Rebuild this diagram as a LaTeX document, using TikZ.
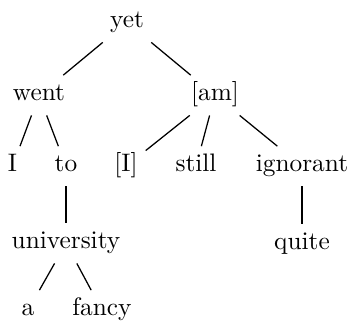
\documentclass[tikz,border=0pt]{standalone}
\begin{document}
\begin{tikzpicture}[x=0.395pt,y=-0.395pt,
  word/.style={anchor=base,inner sep=3pt,text height=7pt,text depth=2.5pt},
  link/.style={draw=black,line width=0.5pt}]
\useasboundingbox (0,0) rectangle (353,327);
% words, placed at their baselines
\node[word] (yet) at (127,28) {yet};
\node[word] (went) at (39,101) {went};
\node[word] (am) at (215,101) {[am]};
\node[word] (I) at (12.5,172) {I};
\node[word] (to) at (66,172) {to};
\node[word] (Ib) at (126,172) {[I]};
\node[word] (still) at (196,172) {still};
\node[word] (ignorant) at (302,172) {ignorant};
\node[word] (university) at (66,249) {university};
\node[word] (quite) at (302,250) {quite};
\node[word] (a) at (28,316) {a};
\node[word] (fancy) at (102,316) {fancy};
% dependency links
\draw[link] (yet) -- (went);
\draw[link] (yet) -- (am);
\draw[link] (went) -- (I);
\draw[link] (went) -- (to);
\draw[link] (am) -- (Ib);
\draw[link] (am) -- (still);
\draw[link] (am) -- (ignorant);
\draw[link] (to) -- (university);
\draw[link] (ignorant) -- (quite);
\draw[link] (university) -- (a);
\draw[link] (university) -- (fancy);
\end{tikzpicture}
\end{document}
